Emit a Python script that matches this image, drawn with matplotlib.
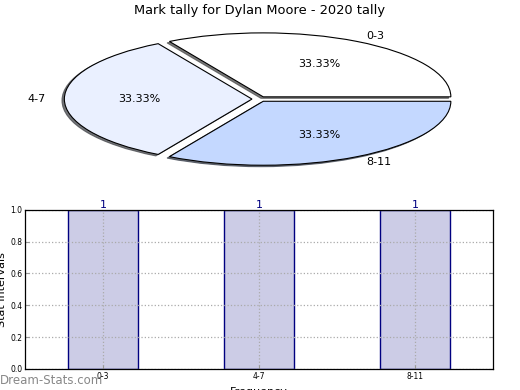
import matplotlib
matplotlib.use("Agg")
import matplotlib.pyplot as plt

title = "Mark tally for Dylan Moore - 2020 tally"
categories = ["0-3", "4-7", "8-11"]
counts = [1, 1, 1]
pie_colors = ["#ffffff", "#eaf0ff", "#c4d8ff"]
explode = [0.04, 0.04, 0.04]

fig = plt.figure(figsize=(5.2, 3.9), dpi=100)

# Pie chart (stretched ellipse)
ax1 = fig.add_axes([0.048, 0.541, 0.902, 0.410])
wedges, texts, autotexts = ax1.pie(
    counts, labels=categories, colors=pie_colors, explode=explode,
    autopct="%.2f%%",
    shadow={"ox": -0.009, "oy": -0.016, "alpha": 0.75},
    startangle=0,
    wedgeprops=dict(edgecolor="black", linewidth=0.8),
    textprops=dict(fontsize=8))
ax1.set_aspect("auto")
ax1.set_xlim(-1.25, 1.25)
ax1.set_ylim(-1.25, 1.25)
ax1.set_axis_off()
fig.text(0.5, 0.973, title, ha="center", va="center", fontsize=9.4)

# Bar chart
ax2 = fig.add_axes([0.048, 0.054, 0.9, 0.408])
x = list(range(len(categories)))
bars = ax2.bar(x, counts, width=0.45, color="#ccccE6", edgecolor="navy",
               linewidth=1.0, zorder=1)
for xi, v in zip(x, counts):
    ax2.text(xi, v + 0.028, str(v), ha="center", va="center", color="navy",
             fontsize=8, zorder=5, clip_on=False)
ax2.set_xlim(-0.5, 2.5)
ax2.set_ylim(0, 1.0)
ax2.set_xticks(x)
ax2.set_xticklabels(categories)
ax2.set_yticks([0.0, 0.2, 0.4, 0.6, 0.8, 1.0])
ax2.set_yticklabels(["0.0", "0.2", "0.4", "0.6", "0.8", "1.0"])
ax2.tick_params(axis="both", labelsize=5.5, direction="in", length=3,
                color="#999999", right=True, top=False, pad=2)
ax2.grid(True, linestyle=":", color="#aaaaaa", linewidth=0.9, zorder=3)
ax2.set_axisbelow(False)
for s in ax2.spines.values():
    s.set_linewidth(0.9)
    s.set_zorder(4)
ax2.set_ylabel("Stat Intervals", fontsize=8, labelpad=2)
ax2.yaxis.set_label_coords(-0.038, 0.5)
ax2.set_xlabel("Frequency", fontsize=8)
ax2.xaxis.set_label_coords(0.5, -0.115)

fig.text(0.0, 0.025, "Dream-Stats.com", ha="left", va="center",
         fontsize=8.5, color="#888888")

fig.savefig("out.png", dpi=100)
